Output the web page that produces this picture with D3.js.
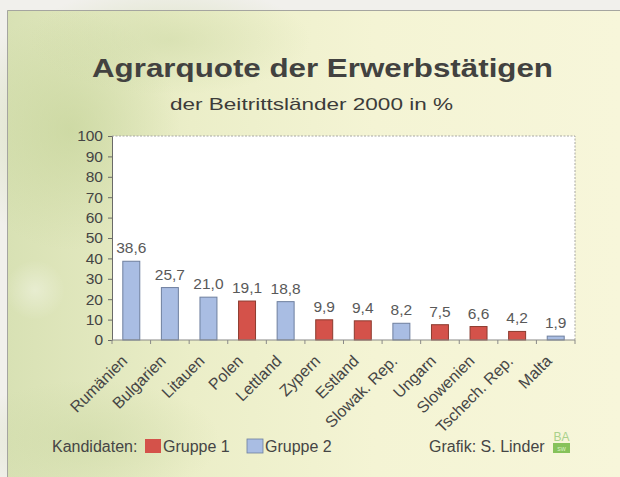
<!DOCTYPE html>
<html><head><meta charset="utf-8">
<script src="https://cdn.jsdelivr.net/npm/d3@7"></script>
<style>html,body{margin:0;padding:0;background:#efeee9;}svg{display:block;font-family:"Liberation Sans",Arial,Helvetica,sans-serif;}svg text{font-family:"Liberation Sans",Arial,Helvetica,sans-serif;}</style>
</head><body>
<script>
const categories = ["Rumänien","Bulgarien","Litauen","Polen","Lettland","Zypern","Estland","Slowak. Rep.","Ungarn","Slowenien","Tschech. Rep.","Malta"];
const values = [38.6,25.7,21.0,19.1,18.8,9.9,9.4,8.2,7.5,6.6,4.2,1.9];
const groups = [2,2,2,1,2,1,1,2,1,1,1,2];
const yTicks = [0,10,20,30,40,50,60,70,80,90,100];
const legendLabels = ["Gruppe 1","Gruppe 2"];
const title = "Agrarquote der Erwerbstätigen";
const subtitle = "der Beitrittsländer 2000 in %";

const W = 620, H = 477;
const colors = {1:"#d4524a", 2:"#a9bde3"};
const strokes = {1:"#8c3b2f", 2:"#6e7f9e"};

const svg = d3.select("body").append("svg").attr("width",W).attr("height",H);
const defs = svg.append("defs");
const lg = defs.append("linearGradient").attr("id","bg").attr("x1","0").attr("x2","1").attr("y1","0").attr("y2","0");
lg.append("stop").attr("offset","0").attr("stop-color","#d8e1b4");
lg.append("stop").attr("offset","0.3").attr("stop-color","#ebeec8");
lg.append("stop").attr("offset","0.6").attr("stop-color","#f4f4d4");
lg.append("stop").attr("offset","1").attr("stop-color","#f7f6da");
function blob(id,col,op){const r=defs.append("radialGradient").attr("id",id);
  r.append("stop").attr("offset","0").attr("stop-color",col).attr("stop-opacity",op);
  r.append("stop").attr("offset","1").attr("stop-color",col).attr("stop-opacity",0);}
blob("b1","#c3d296",0.6);
blob("b2","#ffffff",0.35);
blob("b3","#cad7a2",0.5);

svg.append("rect").attr("width",W).attr("height",H).attr("fill","#f1f0ec");
svg.append("rect").attr("x",7).attr("y",10).attr("width",W-7).attr("height",H-10).attr("fill","url(#bg)");
svg.append("ellipse").attr("cx",70).attr("cy",130).attr("rx",110).attr("ry",120).attr("fill","url(#b1)");
svg.append("ellipse").attr("cx",170).attr("cy",40).attr("rx",140).attr("ry",55).attr("fill","url(#b3)");
svg.append("ellipse").attr("cx",90).attr("cy",440).attr("rx",130).attr("ry",60).attr("fill","url(#b3)");
svg.append("ellipse").attr("cx",35).attr("cy",290).attr("rx",30).attr("ry",30).attr("fill","url(#b2)");
svg.append("path").attr("d",`M7.5,${H}V10.5H${W}`).attr("fill","none").attr("stroke","#a5a5a0").attr("stroke-width",1);

// titles
svg.append("text").attr("x",322.5).attr("y",77).attr("text-anchor","middle")
  .attr("font-size",25).attr("font-weight","bold").attr("fill","#424240")
  .attr("textLength",461).attr("lengthAdjust","spacingAndGlyphs").text(title);
svg.append("text").attr("x",311.5).attr("y",110).attr("text-anchor","middle")
  .attr("font-size",17).attr("fill","#3c3c3a")
  .attr("textLength",283).attr("lengthAdjust","spacingAndGlyphs").text(subtitle);

const L=112, R=575, T=136, B=340;
const x = d3.scaleBand().domain(categories).range([L,R]).paddingInner(0.56).paddingOuter(0.28);
const y = d3.scaleLinear().domain([0,100]).range([B,T]);

svg.append("rect").attr("x",L).attr("y",T).attr("width",R-L).attr("height",B-T).attr("fill","#ffffff");
svg.append("path").attr("d",`M${L},${T}H${R}V${B}`).attr("fill","none").attr("stroke","#a8a8a4").attr("stroke-dasharray","2,1.5");

// bars
svg.append("g").selectAll("rect").data(categories).join("rect")
  .attr("x",d=>x(d)).attr("width",x.bandwidth())
  .attr("y",(d,i)=>y(values[i])).attr("height",(d,i)=>y(0)-y(values[i]))
  .attr("fill",(d,i)=>colors[groups[i]]).attr("stroke",(d,i)=>strokes[groups[i]]).attr("stroke-width",1);

// value labels
const fmt = v => d3.format(".1f")(v).replace(".",",");
svg.append("g").selectAll("text").data(categories).join("text")
  .attr("x",d=>x(d)+x.bandwidth()/2).attr("y",(d,i)=>y(values[i])-8)
  .attr("text-anchor","middle").attr("font-size",15.5).attr("fill","#595959")
  .text((d,i)=>fmt(values[i]));

// y axis
const ya = svg.append("g").attr("transform",`translate(${L},0)`)
  .call(d3.axisLeft(y).tickValues(yTicks).tickSize(4).tickPadding(5).tickFormat(d3.format("d")));
ya.select(".domain").attr("stroke","#6a6a68");
ya.selectAll(".tick line").attr("stroke","#6a6a68");
ya.selectAll(".tick text").attr("font-size",15.5).attr("fill","#444").attr("font-family",null);

// x axis
const xa = svg.append("g").attr("transform",`translate(0,${B})`);
xa.append("line").attr("x1",L).attr("x2",R).attr("stroke","#8a8a88").attr("stroke-width",1.2);
const bounds = d3.range(categories.length+1).map(i=>L+i*(R-L)/categories.length);
xa.selectAll("line.t").data(bounds).join("line").attr("class","t")
  .attr("x1",d=>d).attr("x2",d=>d).attr("y1",0).attr("y2",4).attr("stroke","#8a8a88");
svg.append("g").selectAll("text").data(categories).join("text")
  .attr("transform",d=>`translate(${x(d)+x.bandwidth()/2-3},${B+22}) rotate(-45)`)
  .attr("text-anchor","end").attr("font-size",16).attr("fill","#454545").text(d=>d);

// legend
const lgY = 452;
svg.append("text").attr("x",52).attr("y",lgY).attr("font-size",16).attr("fill","#454545").text("Kandidaten:");
const sw = [{x:145,g:1},{x:247,g:2}];
svg.append("g").selectAll("rect").data(sw).join("rect")
  .attr("x",d=>d.x).attr("y",439).attr("width",16).attr("height",14)
  .attr("fill",d=>colors[d.g]).attr("stroke",d=>d.g===2?strokes[2]:"none").attr("stroke-width",0.8);
svg.append("g").selectAll("text").data(sw).join("text")
  .attr("x",d=>d.x+18).attr("y",lgY).attr("font-size",16).attr("fill","#454545")
  .text((d,i)=>legendLabels[i]);
svg.append("text").attr("x",429).attr("y",lgY).attr("font-size",16).attr("fill","#454545").text("Grafik: S. Linder");
// logo
svg.append("text").attr("x",561.5).attr("y",441).attr("text-anchor","middle").attr("font-size",12).attr("fill","#a9d18a").text("BA");
svg.append("rect").attr("x",553).attr("y",443).attr("width",17).attr("height",10).attr("fill","#86c25a");
svg.append("text").attr("x",561.5).attr("y",451).attr("text-anchor","middle").attr("font-size",7).attr("fill","#d8f0c0").text("sw");
</script>
</body></html>
